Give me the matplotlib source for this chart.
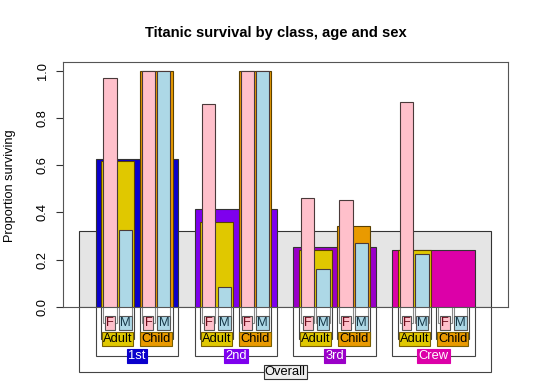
import numpy as np
import matplotlib.pyplot as plt

plt.rcParams['font.family'] = ['Liberation Sans', 'DejaVu Sans']

# --- data (proportion surviving) ---
classes = ['1st', '2nd', '3rd', 'Crew']
ages = ['Adult', 'Child']
sexes = ['F', 'M']
overall = 0.323
class_surv = [0.625, 0.414, 0.252, 0.240]
age_surv = [[0.618, 1.0], [0.360, 1.0], [0.241, 0.342], [0.240, np.nan]]
sex_surv = [[[0.972, 0.326], [1.0, 1.0]],
            [[0.860, 0.083], [1.0, 1.0]],
            [[0.461, 0.162], [0.452, 0.271]],
            [[0.870, 0.223], [np.nan, np.nan]]]

# --- colours ---
overall_col = '#e5e5e5'
class_cols = ['#0a00cc', '#7e00ee', '#9a00c8', '#dc00a8']
class_txt = ['white', 'white', 'white', 'white']
age_cols = ['#e0c800', '#e99a00']
sex_cols = ['#ffc0cb', '#add8e6']
sex_txt = ['#6b0a1a', '#163848']
edge = '#333333'
line_col = '#444444'


def split(lo, hi, n, r):
    # n children inside [lo, hi], gaps = r * child width
    w = (hi - lo) / (n + (n + 1) * r)
    return [(lo + r * w * (i + 1) + w * i, lo + r * w * (i + 1) + w * (i + 1)) for i in range(n)]


fig = plt.figure(figsize=(5.4, 3.86), dpi=100)
ax = fig.add_axes([62.7 / 540, 1 - 306.7 / 386, 445 / 540, 244.4 / 386])
ax.set_xlim(0, 27)
ax.set_ylim(0, 1.037)

# label rows below the axis (data units)
y_sex, y_age, y_cls, y_all = -0.068, -0.138, -0.210, -0.278


def bracket(lo, hi, ylab, col, lw=0.8):
    ax.plot([lo, lo, hi, hi], [0, ylab, ylab, 0], color=col, lw=lw,
            clip_on=False, zorder=1, solid_joinstyle='miter')


def label(x, y, s, fc, tc, ec=None, fs=9.3):
    ax.text(x, y, s, ha='center', va='center', fontsize=fs, color=tc, zorder=6,
            clip_on=False,
            bbox=dict(boxstyle='square,pad=0.08', fc=fc, ec=ec if ec else fc, lw=0.8))


def bar(lo, hi, h, fc, ec=edge, z=2):
    if np.isnan(h):
        return
    ax.bar((lo + hi) / 2, h, width=hi - lo, color=fc, edgecolor=ec, lw=0.8, zorder=z)


olo, ohi = 1, 26
bar(olo, ohi, overall, overall_col, z=2)
bracket(olo, ohi, y_all, line_col)
label((olo + ohi) / 2, y_all, 'Overall', '#eeeeee', 'black', ec='#333333')

for i, (clo, chi) in enumerate(split(olo, ohi, len(classes), 0.2)):
    bar(clo, chi, class_surv[i], class_cols[i], z=3)
    bracket(clo, chi, y_cls, line_col)
    label((clo + chi) / 2, y_cls, classes[i], class_cols[i], class_txt[i])
    for j, (alo, ahi) in enumerate(split(clo, chi, len(ages), 1 / 6)):
        bar(alo, ahi, age_surv[i][j], age_cols[j], ec='#5a4000', z=4)
        bracket(alo, ahi, y_age, line_col)
        label((alo + ahi) / 2, y_age, ages[j], age_cols[j], 'black', ec='#7a6000')
        for k, (slo, shi) in enumerate(split(alo, ahi, len(sexes), 0.156)):
            bar(slo, shi, sex_surv[i][j][k], sex_cols[k], ec='#4a3a3a', z=5)
            bracket(slo, shi, y_sex, '#888888')
            label((slo + shi) / 2, y_sex, sexes[k], sex_cols[k], sex_txt[k], ec='#555555')

ax.set_xticks([])
ax.set_yticks([0, 0.2, 0.4, 0.6, 0.8, 1.0])
ax.set_yticklabels(['0.0', '0.2', '0.4', '0.6', '0.8', '1.0'], rotation=90, va='center')
ax.tick_params(axis='y', length=5, pad=5, labelsize=9.3, color='#333333')
for s in ax.spines.values():
    s.set_color('#555555')
    s.set_linewidth(0.8)

fig.text(276 / 540, 1 - 32.5 / 386, 'Titanic survival by class, age and sex',
         ha='center', va='center', fontsize=10.6, fontweight='bold')
fig.text(10 / 540, 1 - 186 / 386, 'Proportion surviving', rotation=90,
         ha='center', va='center', fontsize=9.2)

fig.savefig('out.png', dpi=100)
